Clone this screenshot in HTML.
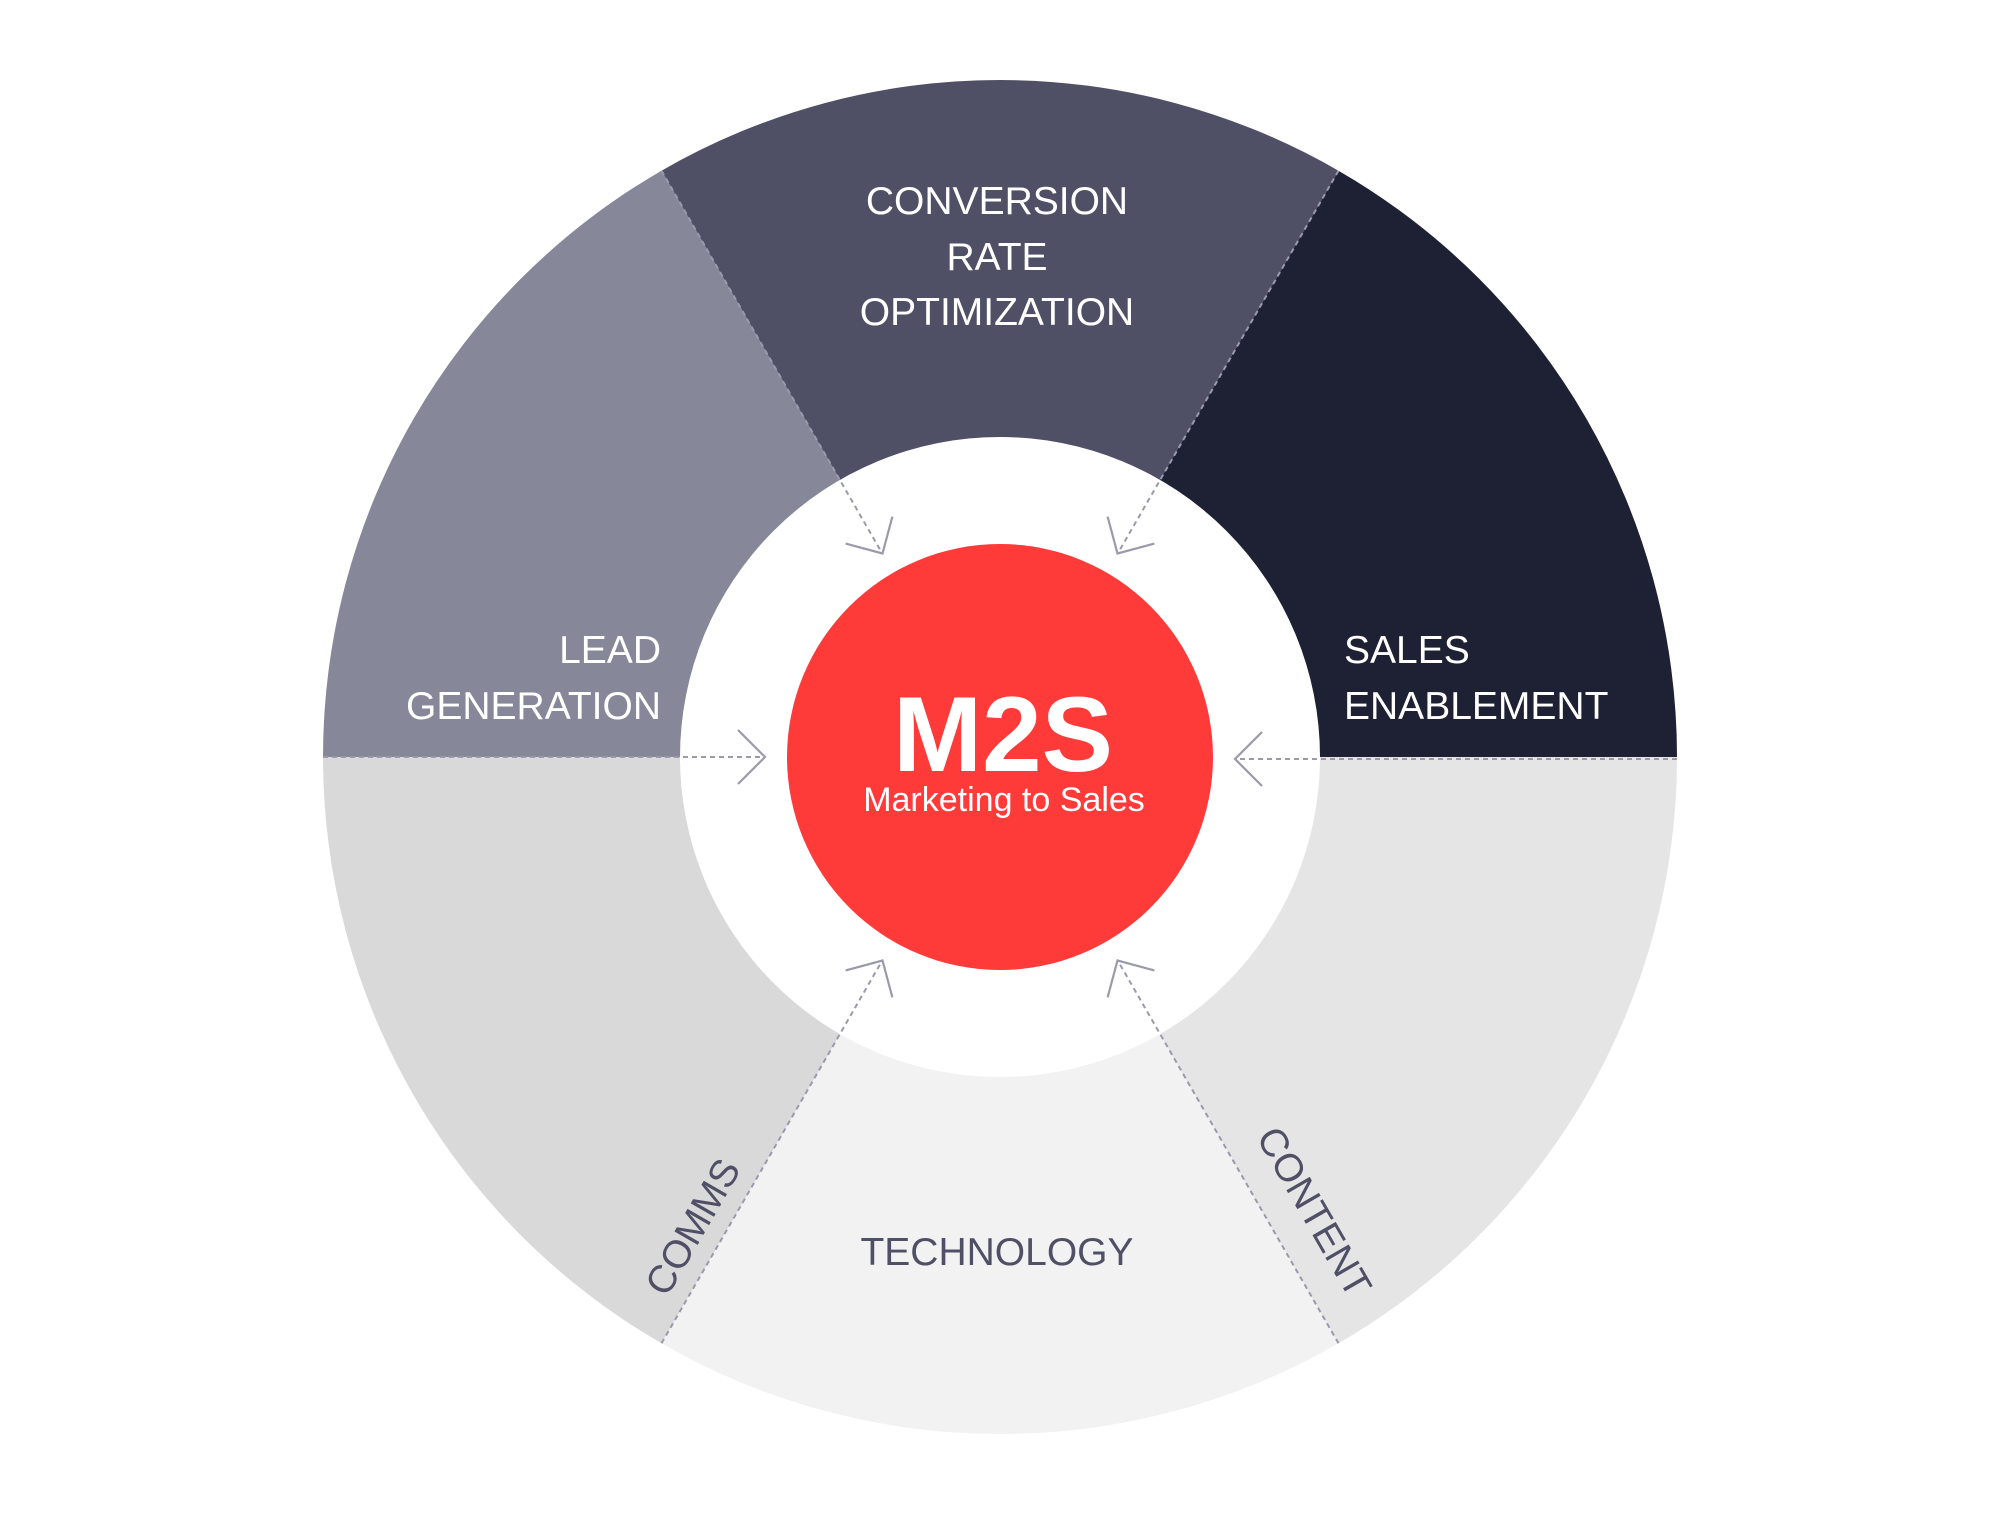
<!DOCTYPE html>
<html><head><meta charset="utf-8"><style>html,body{margin:0;padding:0;background:#fff}svg{display:block}</style></head>
<body>
<svg width="2000" height="1514" viewBox="0 0 2000 1514" xmlns="http://www.w3.org/2000/svg">
<g transform="translate(1000,757)">
<path d="M0 0 L677 0 A677 677 0 0 0 338.5 -586.3 Z" fill="#1e2033"/>
<path d="M0 0 L338.5 -586.3 A677 677 0 0 0 -338.5 -586.3 Z" fill="#4f5066"/>
<path d="M0 0 L-338.5 -586.3 A677 677 0 0 0 -677 0 Z" fill="#868799"/>
<path d="M0 0 L-677 0 A677 677 0 0 0 -338.5 586.3 Z" fill="#d9d9d9"/>
<path d="M0 0 L-338.5 586.3 A677 677 0 0 0 338.5 586.3 Z" fill="#f2f2f2"/>
<path d="M0 0 L338.5 586.3 A677 677 0 0 0 677 0 Z" fill="#e5e5e5"/>
<circle r="320" fill="#fff"/>
<circle r="213" fill="#ff3b3a"/>
<g stroke="#9a9aab" stroke-width="2" fill="none" stroke-dasharray="5,4">
<line x1="-677" y1="0" x2="-237" y2="0"/>
<line x1="677" y1="2" x2="237" y2="2"/>
<line x1="-338.5" y1="-586.3" x2="-118" y2="-204"/>
<line x1="338.5" y1="-586.3" x2="118" y2="-204"/>
<line x1="-338.5" y1="586.3" x2="-118" y2="204"/>
<line x1="338.5" y1="586.3" x2="118" y2="204"/>
</g>
<g stroke="#9a9aab" stroke-width="2.2" fill="none">
<g transform="rotate(180)"><polyline points="262,-27 235,0 262,27"/></g>
<g transform="translate(0,2)"><polyline points="262,-27 235,0 262,27"/></g>
<g transform="rotate(-120)"><polyline points="262,-27 235,0 262,27"/></g>
<g transform="rotate(-60)"><polyline points="262,-27 235,0 262,27"/></g>
<g transform="rotate(120)"><polyline points="262,-27 235,0 262,27"/></g>
<g transform="rotate(60)"><polyline points="262,-27 235,0 262,27"/></g>
</g>
</g>
<g font-family="Liberation Sans, sans-serif" font-size="39" fill="#fff">
<text x="997" y="214" text-anchor="middle">CONVERSION</text>
<text x="997" y="270" text-anchor="middle">RATE</text>
<text x="997" y="325" text-anchor="middle">OPTIMIZATION</text>
<text x="661" y="663" text-anchor="end">LEAD</text>
<text x="661" y="719" text-anchor="end">GENERATION</text>
<text x="1344" y="663">SALES</text>
<text x="1344" y="719">ENABLEMENT</text>
<g fill="#4f5066">
<text x="997" y="1265" text-anchor="middle">TECHNOLOGY</text>
<text transform="translate(693,1227) rotate(-60)" text-anchor="middle" dy="13">COMMS</text>
<text transform="translate(1314,1212) rotate(60)" text-anchor="middle" dy="13">CONTENT</text>
</g>
<text x="1003" y="771" text-anchor="middle" font-size="107" font-weight="bold">M2S</text>
<text x="1004" y="811" text-anchor="middle" font-size="34">Marketing to Sales</text>
</g>
</svg>
</body></html>
